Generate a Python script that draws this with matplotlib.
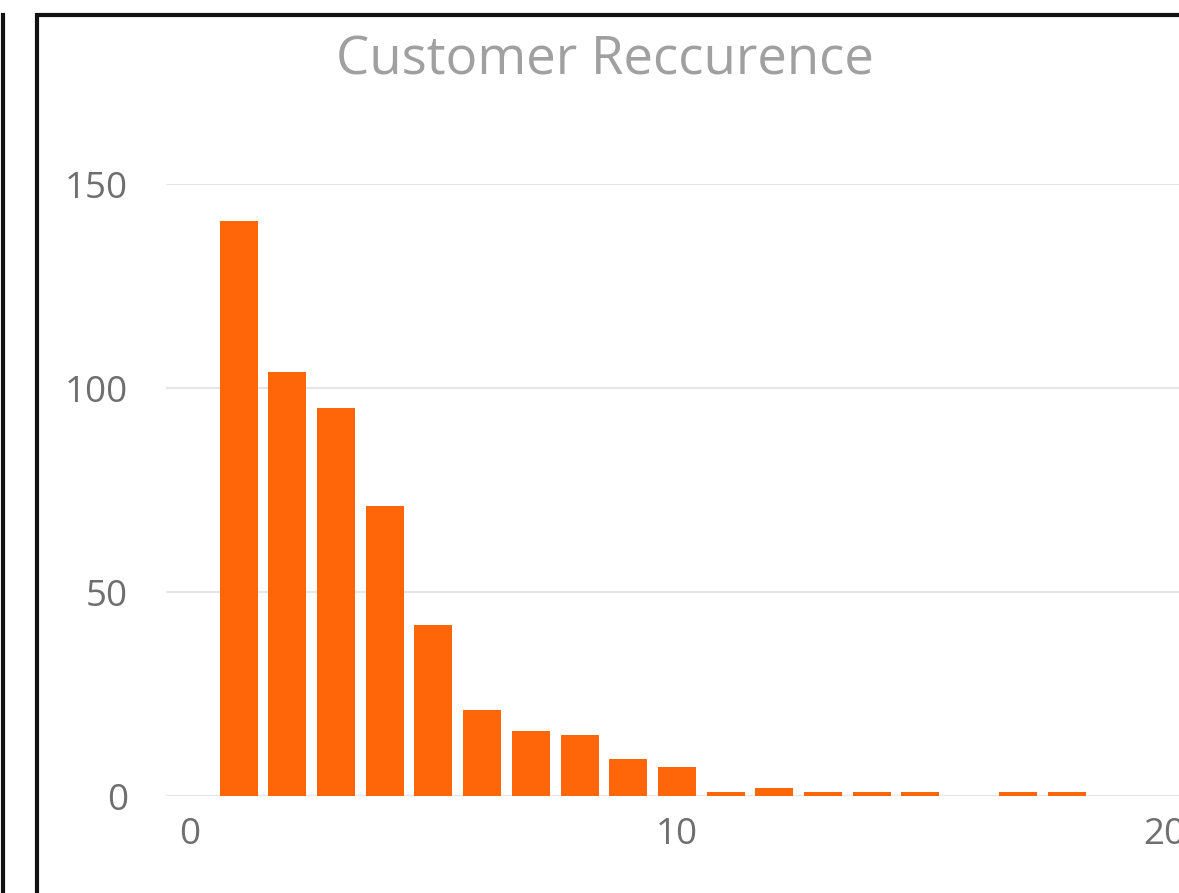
import matplotlib.pyplot as plt
from matplotlib.patches import Rectangle
from matplotlib.lines import Line2D

plt.rcParams['font.family'] = ['Open Sans', 'DejaVu Sans']

visits = list(range(1, 19))
customers = [141, 104, 95, 71, 42, 21, 16, 15, 9, 7, 1, 2, 1, 1, 1, 0, 1, 1]
y_ticks = [0, 50, 100, 150]
x_ticks = [0, 10, 20]

W, H = 1179, 893
fig = plt.figure(figsize=(W / 100, H / 100), dpi=100)

# axes placed in pixel terms; right side runs past the picture edge (cropped)
left, bottom = 165.6, 796
width = 21 * 48.7
height = 612
ax = fig.add_axes([left / W, (H - bottom) / H, width / W, height / H])

ax.bar(visits, customers, width=0.78, color='#FF6609', zorder=3)

ax.set_xlim(-0.5, 20.5)
ax.set_ylim(0, 150)
ax.set_yticks(y_ticks)
ax.set_xticks(x_ticks)
ax.grid(axis='y', color='#e6e6e6', linewidth=1.6, zorder=0)
ax.tick_params(length=0, labelsize=26.5, colors='#6f6f6f')
ax.tick_params(axis='y', pad=27)
ax.tick_params(axis='x', pad=15)
for s in ax.spines.values():
    s.set_visible(False)

fig.text(605 / W, 1 - 61 / H, 'Customer Reccurence', ha='center', va='center',
         fontsize=38, color='#a0a0a0')

# dashboard frame lines
fig.add_artist(Rectangle((37 / W, -0.1), 1.2, 1 - 15 / H + 0.1, transform=fig.transFigure,
                         fill=False, edgecolor='#111111', linewidth=3))
fig.add_artist(Line2D([3 / W, 3 / W], [0, 1 - 15 / H], transform=fig.transFigure,
                      color='#111111', linewidth=3))

fig.savefig('out.png', dpi=100)
